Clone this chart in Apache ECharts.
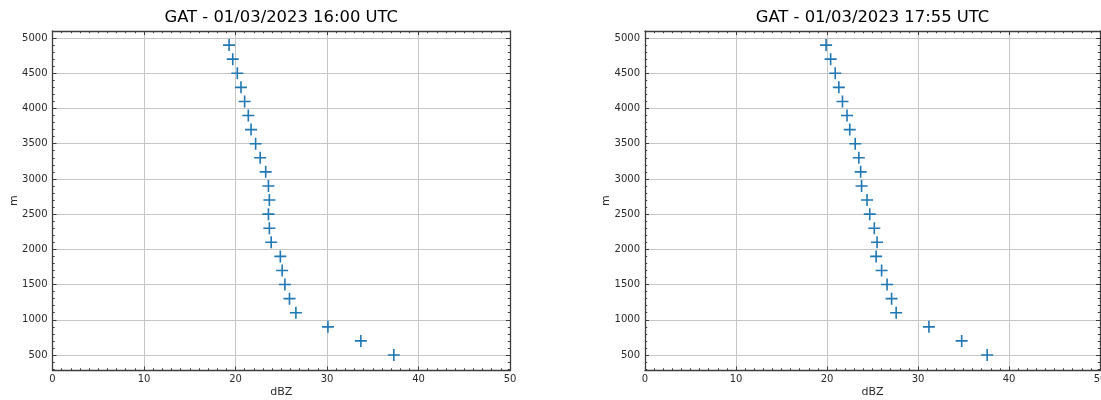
<!DOCTYPE html>
<html>
<head>
<meta charset="utf-8">
<script src="https://cdn.jsdelivr.net/npm/echarts@6/dist/echarts.min.js"></script>
<style>html,body{margin:0;padding:0;background:#fff}#c{width:1101px;height:400px}</style>
</head>
<body>
<div id="c"></div>
<script>
// ---- data ----
const heights = [4900,4700,4500,4300,4100,3900,3700,3500,3300,3100,2900,2700,2500,2300,2100,1900,1700,1500,1300,1100,900,700,500];
const dbz1600 = [19.3,19.7,20.2,20.6,21.0,21.4,21.7,22.2,22.7,23.3,23.6,23.7,23.6,23.7,23.9,24.9,25.1,25.4,25.9,26.6,30.1,33.7,37.3];
const dbz1755 = [19.9,20.4,20.9,21.3,21.7,22.2,22.5,23.1,23.5,23.7,23.8,24.4,24.7,25.2,25.5,25.4,26.0,26.6,27.1,27.6,31.2,34.8,37.6];
const titles = ['GAT - 01/03/2023 16:00 UTC', 'GAT - 01/03/2023 17:55 UTC'];
const xName = 'dBZ';
const yName = 'm';
const yMajorTicks = [500,1000,1500,2000,2500,3000,3500,4000,4500,5000];
const yMinorTicks = [300,400,600,700,800,900,1100,1200,1300,1400,1600,1700,1800,1900,2100,2200,2300,2400,2600,2700,2800,2900,3100,3200,3300,3400,3600,3700,3800,3900,4100,4200,4300,4400,4600,4700,4800,4900,5100];
const xMin = 0, xMax = 50, xStep = 10;
const yMin = 280, yMax = 5100;

// ---- styling / layout ----
const FONT = 'DejaVu Sans';
const SPINE = '#3c3c3c';
const GRIDC = '#c6c6c6';
const TXT = '#2b2b2b';
const BLUE = '#1f77b4';
const grids = [
  {left: 52.5, width: 457.5, top: 31, height: 339.5},
  {left: 645, width: 455, top: 31, height: 339.5}
];
const seriesData = [dbz1600, dbz1755];

const option = {animation: false, backgroundColor: '#fff', title: [], grid: [], xAxis: [], yAxis: [], series: []};

const lineStyle = {color: SPINE, width: 1.3};
const tickStyle = {color: SPINE, width: 1};

grids.forEach((g, i) => {
  option.grid.push(Object.assign({containLabel: false, outerBoundsMode: 'none'}, g));
  option.title.push({
    text: titles[i],
    left: g.left + g.width / 2,
    top: 10.2,
    padding: 0,
    textAlign: 'center',
    textStyle: {fontFamily: FONT, fontSize: 16.4, fontWeight: 'normal', color: '#000'}
  });
  const xBase = {
    type: 'value', gridIndex: i, min: xMin, max: xMax, interval: xStep,
    axisLine: {show: true, onZero: false, lineStyle: lineStyle},
    axisTick: {show: true, inside: true, length: 4, lineStyle: tickStyle},
    minorTick: {show: true, splitNumber: 10, length: 2.2, lineStyle: tickStyle},
  };
  option.xAxis.push(Object.assign({}, xBase, {
    position: 'bottom',
    name: xName, nameLocation: 'middle', nameGap: 16, nameMoveOverlap: false,
    nameTextStyle: {fontFamily: FONT, fontSize: 11, color: TXT},
    axisLabel: {show: true, margin: 4, fontFamily: FONT, fontSize: 10, color: TXT, formatter: v => String(v)},
    splitLine: {show: true, lineStyle: {color: GRIDC, width: 1}}
  }));
  option.xAxis.push(Object.assign({}, xBase, {
    position: 'top',
    axisLabel: {show: false},
    splitLine: {show: false}
  }));
  const yBase = {type: 'value', gridIndex: i, min: yMin, max: yMax};
  // left major
  option.yAxis.push(Object.assign({}, yBase, {
    position: 'left',
    name: yName, nameLocation: 'middle', nameGap: 33, nameMoveOverlap: false,
    nameTextStyle: {fontFamily: FONT, fontSize: 11, color: TXT},
    axisLine: {show: true, onZero: false, lineStyle: lineStyle},
    axisTick: {show: true, inside: true, length: 4, lineStyle: tickStyle, customValues: yMajorTicks},
    axisLabel: {show: true, margin: 5, fontFamily: FONT, fontSize: 10, color: TXT, customValues: yMajorTicks, formatter: v => String(v)},
    splitLine: {show: true, lineStyle: {color: GRIDC, width: 1}}
  }));
  // left minor
  option.yAxis.push(Object.assign({}, yBase, {
    position: 'left',
    axisLine: {show: false, onZero: false},
    axisTick: {show: true, inside: true, length: 2.2, lineStyle: tickStyle, customValues: yMinorTicks},
    axisLabel: {show: false},
    splitLine: {show: false}
  }));
  // right major
  option.yAxis.push(Object.assign({}, yBase, {
    position: 'right',
    axisLine: {show: true, onZero: false, lineStyle: lineStyle},
    axisTick: {show: true, inside: true, length: 4, lineStyle: tickStyle, customValues: yMajorTicks},
    axisLabel: {show: false},
    splitLine: {show: false}
  }));
  // right minor
  option.yAxis.push(Object.assign({}, yBase, {
    position: 'right',
    axisLine: {show: false, onZero: false},
    axisTick: {show: true, inside: true, length: 2.2, lineStyle: tickStyle, customValues: yMinorTicks},
    axisLabel: {show: false},
    splitLine: {show: false}
  }));
  option.series.push({
    type: 'scatter',
    xAxisIndex: 2 * i,
    yAxisIndex: 4 * i,
    silent: true,
    symbol: 'path://M5,0L5,10M0,5L10,5',
    symbolSize: 12,
    itemStyle: {color: BLUE, borderColor: BLUE, borderWidth: 1.6, opacity: 1},
    data: heights.map((h, k) => [seriesData[i][k], h])
  });
});

const chart = echarts.init(document.getElementById('c'), null, {renderer: 'canvas'});
chart.setOption(option);
</script>
</body>
</html>
